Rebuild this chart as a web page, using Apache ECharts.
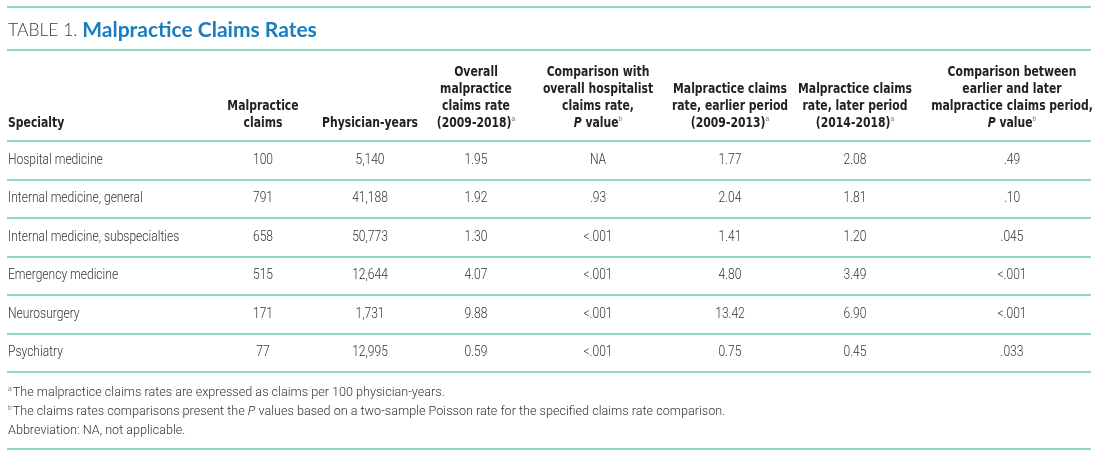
<!DOCTYPE html>
<html><head><meta charset="utf-8">
<script src="https://cdn.jsdelivr.net/npm/echarts@6/dist/echarts.min.js"></script>
<style>html,body{margin:0;padding:0;background:#fff}#c{width:1100px;height:455px}</style>
</head><body><div id="c"></div>
<script>
// ---- data ----
const specialties = ['Hospital medicine', 'Internal medicine, general', 'Internal medicine, subspecialties', 'Emergency medicine', 'Neurosurgery', 'Psychiatry'];
const claims = [100, 791, 658, 515, 171, 77];
const physicianYears = [5140, 41188, 50773, 12644, 1731, 12995];
const overallRate = [1.95, 1.92, 1.30, 4.07, 9.88, 0.59];
const pVsHospitalist = ['NA', '.93', '<.001', '<.001', '<.001', '<.001'];
const earlierRate = [1.77, 2.04, 1.41, 4.80, 13.42, 0.75];
const laterRate = [2.08, 1.81, 1.20, 3.49, 6.90, 0.45];
const pPeriod = ['.49', '.10', '.045', '<.001', '<.001', '.033'];
const headers = [
  'Specialty',
  'Malpractice\nclaims',
  'Physician-years',
  'Overall\nmalpractice\nclaims rate\n(2009-2018){sup|a}',
  'Comparison with\noverall hospitalist\nclaims rate,\n{i|P} value{sup|b}',
  'Malpractice claims\nrate, earlier period\n(2009-2013){sup|a}',
  'Malpractice claims\nrate, later period\n(2014-2018){sup|a}',
  'Comparison between\nearlier and later\nmalpractice claims period,\n{i|P} value{sup|b}'
];
const footnotes = [
  '{sup|a}The malpractice claims rates are expressed as claims per 100 physician-years.',
  '{sup|b}The claims rates comparisons present the {i|P} values based on a two-sample Poisson rate for the specified claims rate comparison.',
  'Abbreviation: NA, not applicable.'
];
const titleLabel = 'TABLE 1. ';
const titleText = 'Malpractice Claims Rates';

// ---- layout / style ----
const COL_X = [8, 263, 370, 476, 598, 730, 855, 1012];
const RULE = '#8fd8c1';
const HEAD_FONT = '"DejaVu Sans Condensed", "DejaVu Sans", sans-serif';
const BODY_FONT = 'Roboto, "Noto Sans", sans-serif';
const TEXT = '#333';
const HEAD_SCALE = 0.83;
const BODY_SCALE = 0.83;
const FOOT_SCALE = 0.97;

const columns = [
  specialties,
  claims.map(v => String(v)),
  physicianYears.map(v => v.toLocaleString('en-US')),
  overallRate.map(v => v.toFixed(2)),
  pVsHospitalist,
  earlierRate.map(v => v.toFixed(2)),
  laterRate.map(v => v.toFixed(2)),
  pPeriod
];
const cells = [];
columns.forEach((col, j) => col.forEach((t, i) => cells.push({ value: [COL_X[j], i], text: t, col: j })));

const supStyle = { fontSize: 8, fill: '#777', fontWeight: 'normal', padding: [0, 0, 9, 0] };
const graphics = [];
[7, 50, 449].forEach(y => graphics.push({ type: 'line', shape: { x1: 7, y1: y, x2: 1091, y2: y }, style: { stroke: RULE, lineWidth: 2 } }));
graphics.push({
  type: 'text', x: 8, y: 30,
  style: {
    text: '{t|' + titleLabel + '}{b|' + titleText + '}',
    verticalAlign: 'middle',
    rich: {
      t: { fontFamily: 'Lato, "Open Sans", sans-serif', fontSize: 17.5, fill: '#3a3a3a', fontWeight: 300 },
      b: { fontFamily: 'Lato, "Open Sans", sans-serif', fontSize: 21, fill: '#1a7dc0', fontWeight: 'bold' }
    }
  }
});
headers.forEach((h, j) => graphics.push({
  type: 'text', x: COL_X[j], y: 132, scaleX: HEAD_SCALE,
  style: {
    text: h, align: j === 0 ? 'left' : 'center', verticalAlign: 'bottom',
    fontFamily: HEAD_FONT, fontSize: 14.5, fontWeight: 'bold', fill: '#222', lineHeight: 17,
    rich: { sup: supStyle, i: { fontStyle: 'italic', fontWeight: 'bold', fontFamily: HEAD_FONT, fontSize: 14.5, fill: '#222' } }
  }
}));
footnotes.forEach((f, k) => graphics.push({
  type: 'text', x: 8, y: 393 + k * 19, scaleX: FOOT_SCALE,
  style: {
    text: f, verticalAlign: 'middle', fontFamily: BODY_FONT, fontSize: 13, fontWeight: 300, fill: TEXT,
    rich: { sup: { fontSize: 7, fill: '#777', padding: [0, 1, 7, 0] }, i: { fontStyle: 'italic', fontFamily: BODY_FONT, fontSize: 13, fontWeight: 300, fill: TEXT } }
  }
}));

const chart = echarts.init(document.getElementById('c'), null, { renderer: 'canvas' });
chart.setOption({
  animation: false,
  backgroundColor: '#fff',
  grid: { left: 7, right: 9, top: 141, bottom: 83 },
  xAxis: { type: 'value', min: 7, max: 1091, show: false },
  yAxis: {
    type: 'category', data: specialties, inverse: true,
    axisLabel: { show: false }, axisTick: { show: false }, axisLine: { show: false },
    splitLine: { show: true, interval: 0, lineStyle: { color: RULE, width: 2 } }
  },
  graphic: graphics,
  series: [{
    type: 'custom',
    data: cells.map(c => c.value),
    renderItem: (params, api) => {
      const c = cells[params.dataIndex];
      const p = api.coord([api.value(0), api.value(1)]);
      return {
        type: 'text', x: p[0], y: p[1], scaleX: BODY_SCALE,
        style: { text: c.text, align: c.col === 0 ? 'left' : 'center', verticalAlign: 'middle', fontFamily: BODY_FONT, fontSize: 14.5, fontWeight: 300, fill: TEXT }
      };
    }
  }]
});
</script></body></html>
